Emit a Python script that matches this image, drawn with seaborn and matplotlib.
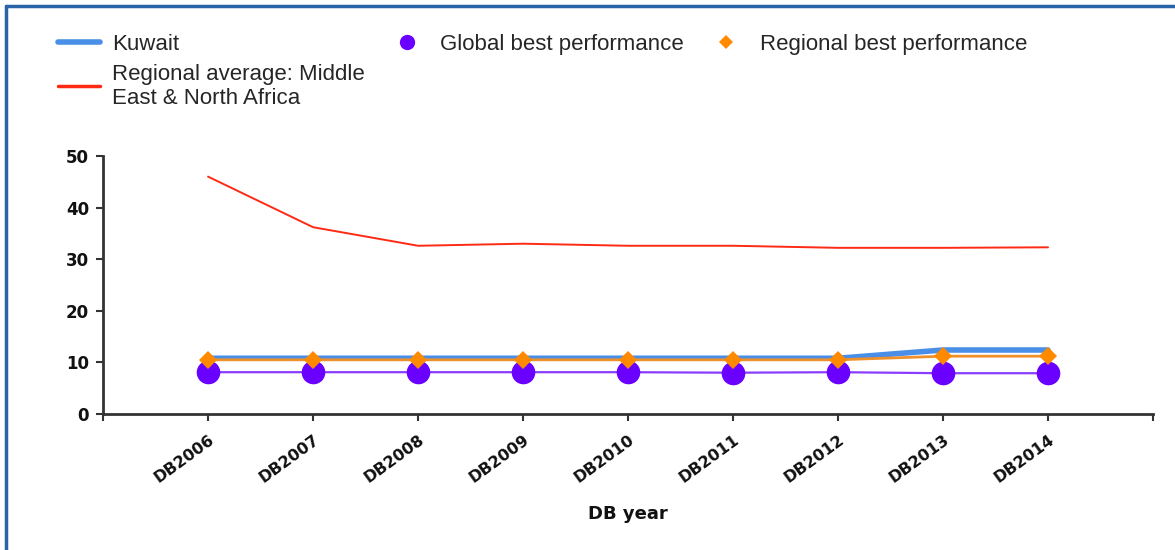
import matplotlib
matplotlib.use("Agg")
import matplotlib.pyplot as plt
from matplotlib.lines import Line2D
import seaborn as sns
import pandas as pd

years = ["DB2006", "DB2007", "DB2008", "DB2009", "DB2010", "DB2011", "DB2012", "DB2013", "DB2014"]
kuwait = [10.8, 10.8, 10.8, 10.8, 10.8, 10.8, 10.8, 12.4, 12.4]
regional_avg = [46.0, 36.2, 32.6, 33.0, 32.6, 32.6, 32.2, 32.2, 32.3]
global_best = [8.1, 8.1, 8.1, 8.1, 8.1, 8.0, 8.1, 7.9, 7.9]
regional_best = [10.5, 10.5, 10.5, 10.5, 10.5, 10.5, 10.5, 11.2, 11.2]

labels = ["Kuwait", "Regional average: Middle\nEast & North Africa",
          "Global best performance", "Regional best performance"]

sns.set_theme(style="white")
plt.rcParams['font.family'] = ['Liberation Sans', 'DejaVu Sans']

fig = plt.figure(figsize=(11.75, 5.5), dpi=100)
ax = fig.add_axes([0.0877, 0.2473, 0.8936, 0.4691])

df = pd.DataFrame({"idx": range(len(years)), "kuwait": kuwait, "ravg": regional_avg,
                   "gbest": global_best, "rbest": regional_best})

sns.lineplot(data=df, x="idx", y="kuwait", ax=ax, color="#4a8fe7", lw=4, label=labels[0])
sns.lineplot(data=df, x="idx", y="ravg", ax=ax, color="#ff2a14", lw=1.4, label=labels[1])
sns.lineplot(data=df, x="idx", y="gbest", ax=ax, color="#8a3cff", lw=1.6,
             marker="o", markersize=17, markerfacecolor="#6a00ff", markeredgewidth=0,
             label=labels[2])
sns.lineplot(data=df, x="idx", y="rbest", ax=ax, color="#f0902a", lw=2,
             marker="D", markersize=9.5, markerfacecolor="#ff8a00", markeredgewidth=0,
             label=labels[3])

ax.set_xlim(-1, len(years))
ax.set_ylim(0, 50)
ax.set_xticks(range(-1, len(years) + 1))
ax.set_xticklabels([""] + years + [""], rotation=36, ha="right", rotation_mode="anchor",
                   fontsize=11.5, fontweight="bold", family="DejaVu Sans", color="#111111")
ax.set_yticks(range(0, 51, 10))
ax.set_yticklabels([str(v) for v in range(0, 51, 10)], fontsize=12, fontweight="bold",
                   family="DejaVu Sans", color="#111111")
ax.tick_params(axis="both", which="major", direction="out", length=5, width=1.5,
               color="#333333", bottom=True, left=True, pad=5)
ax.tick_params(axis="x", pad=8)
for s in ["top", "right"]:
    ax.spines[s].set_visible(False)
for s in ["left", "bottom"]:
    ax.spines[s].set_color("#333333")
    ax.spines[s].set_linewidth(2)
ax.set_xlabel("DB year", fontsize=13, fontweight="bold", family="DejaVu Sans",
              color="#111111", labelpad=14)
ax.set_ylabel("")

handles = [
    Line2D([], [], color="#4a8fe7", lw=4),
    Line2D([], [], color="#ff2a14", lw=2.5),
    Line2D([], [], color="none", marker="o", markersize=11, markerfacecolor="#6a00ff", markeredgewidth=0),
    Line2D([], [], color="none", marker="D", markersize=7, markerfacecolor="#ff8a00", markeredgewidth=0),
]
ax.legend(handles, labels, ncol=3, loc="upper left", bbox_to_anchor=(0.049, 0.938),
          bbox_transform=fig.transFigure, frameon=False, fontsize=16,
          handlelength=1.9, handletextpad=0.55, columnspacing=0.95,
          labelspacing=0.38, borderaxespad=0, borderpad=0)

fig.add_artist(Line2D([0.005, 1.0], [0.989, 0.989], transform=fig.transFigure,
                      color="#2b63a8", lw=2.5))
fig.add_artist(Line2D([0.005, 0.005], [0.0, 0.989], transform=fig.transFigure,
                      color="#2b63a8", lw=2.5))

fig.savefig("out.png", dpi=100, facecolor="white")
